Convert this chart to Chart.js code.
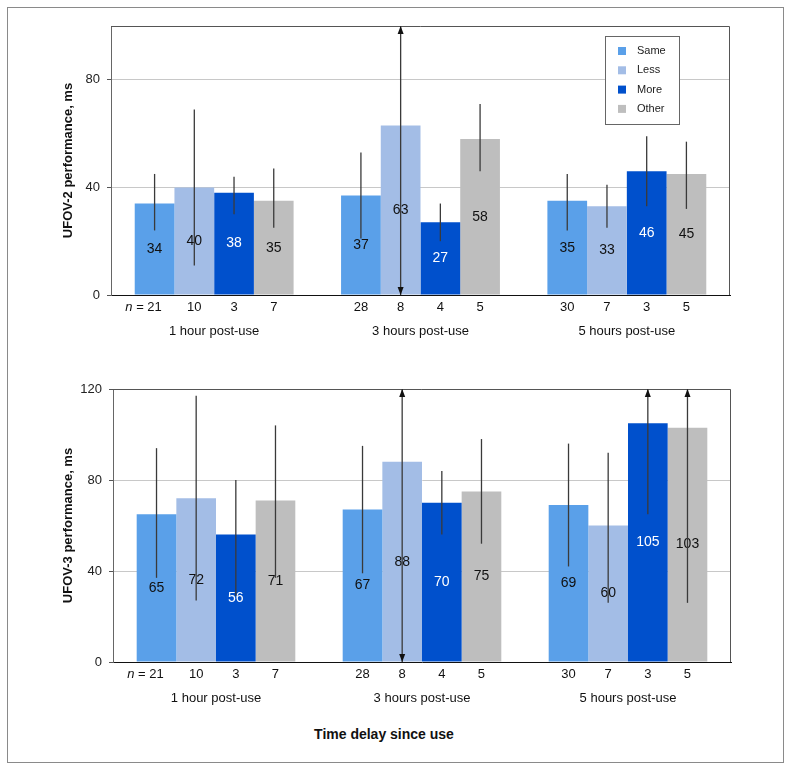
<!DOCTYPE html>
<html>
<head>
<meta charset="utf-8">
<title>UFOV performance by time delay</title>
<script src="https://cdn.jsdelivr.net/npm/chart.js@4.4.1/dist/chart.umd.min.js"></script>
<style>
  html, body { margin: 0; padding: 0; background: #fff; }
  #frame {
    position: absolute; left: 7px; top: 7px; width: 777px; height: 756px;
    border: 1px solid #8a8a8a; box-sizing: border-box;
  }
  .wrap { position: absolute; left: 0; width: 791px; }
  #topWrap { top: 0; height: 345px; }
  #bottomWrap { top: 345px; height: 370px; }
  #xTitle {
    position: absolute; top: 726px; left: 0; width: 768px; text-align: center;
    font: bold 14px "Liberation Sans", Arial, sans-serif; color: #111;
  }
</style>
</head>
<body>
<div id="frame"></div>
<div class="wrap" id="topWrap"><canvas id="ufov2Chart"></canvas></div>
<div class="wrap" id="bottomWrap"><canvas id="ufov3Chart"></canvas></div>
<div id="xTitle">Time delay since use</div>

<script>
// ---- data ----
const categories = ["1 hour post-use", "3 hours post-use", "5 hours post-use"];
const seriesNames = ["Same", "Less", "More", "Other"];

// group sizes (same for both panels)
const nSame = [21, 28, 30];
const nLess = [10, 8, 7];
const nMore = [3, 4, 3];
const nOther = [7, 5, 5];

// UFOV-2 means and error bar ends (ms)
const ufov2Same = [34, 37, 35];
const ufov2Less = [40, 63, 33];
const ufov2More = [38, 27, 46];
const ufov2Other = [35, 58, 45];
const ufov2SameLow = [24, 21, 24];
const ufov2SameHigh = [45, 53, 45];
const ufov2LessLow = [11, -20, 25];
const ufov2LessHigh = [69, 146, 41];
const ufov2MoreLow = [30, 20, 33];
const ufov2MoreHigh = [44, 34, 59];
const ufov2OtherLow = [25, 46, 32];
const ufov2OtherHigh = [47, 71, 57];
const ufov2Ticks = [0, 40, 80];

// UFOV-3 means and error bar ends (ms)
const ufov3Same = [65, 67, 69];
const ufov3Less = [72, 88, 60];
const ufov3More = [56, 70, 105];
const ufov3Other = [71, 75, 103];
const ufov3SameLow = [37, 39, 42];
const ufov3SameHigh = [94, 95, 96];
const ufov3LessLow = [27, -30, 26];
const ufov3LessHigh = [117, 200, 92];
const ufov3MoreLow = [29, 56, 65];
const ufov3MoreHigh = [80, 84, 150];
const ufov3OtherLow = [37, 52, 26];
const ufov3OtherHigh = [104, 98, 180];
const ufov3Ticks = [0, 40, 80, 120];

const barColors = ["#5aa0e9", "#a3bde6", "#0050cc", "#bebebe"];
const labelColors = ["#111", "#111", "#fff", "#111"];
const FONT = '"Liberation Sans", Arial, sans-serif';

Chart.defaults.font.family = FONT;
Chart.defaults.color = "#111";

// value labels, error bars (with arrows when off scale) and n = labels
const barExtras = {
  id: "barExtras",
  afterDatasetsDraw(chart) {
    const { ctx, chartArea } = chart;
    const yScale = chart.scales.y;
    ctx.save();
    chart.data.datasets.forEach((ds, di) => {
      const meta = chart.getDatasetMeta(di);
      meta.data.forEach((bar, i) => {
        ctx.font = "14px " + FONT;
        ctx.fillStyle = ds.labelColor;
        ctx.textAlign = "center";
        ctx.textBaseline = "middle";
        ctx.fillText(ds.data[i], bar.x, (bar.y + bar.base) / 2);
      });
    });
    chart.data.datasets.forEach((ds, di) => {
      const meta = chart.getDatasetMeta(di);
      meta.data.forEach((bar, i) => {
        let top = yScale.getPixelForValue(ds.errHigh[i]);
        let bot = yScale.getPixelForValue(ds.errLow[i]);
        const up = top < chartArea.top;
        const down = bot > chartArea.bottom;
        top = Math.max(top, chartArea.top);
        bot = Math.min(bot, chartArea.bottom);
        ctx.strokeStyle = "#3a3a3a";
        ctx.lineWidth = 1.3;
        ctx.beginPath();
        ctx.moveTo(bar.x, top);
        ctx.lineTo(bar.x, bot);
        ctx.stroke();
        ctx.fillStyle = "#111";
        if (up) {
          ctx.beginPath();
          ctx.moveTo(bar.x, top);
          ctx.lineTo(bar.x - 3, top + 8);
          ctx.lineTo(bar.x + 3, top + 8);
          ctx.fill();
        }
        if (down) {
          ctx.beginPath();
          ctx.moveTo(bar.x, bot);
          ctx.lineTo(bar.x - 3, bot - 8);
          ctx.lineTo(bar.x + 3, bot - 8);
          ctx.fill();
        }
      });
    });
    // n labels under each bar
    ctx.font = "13px " + FONT;
    ctx.fillStyle = "#111";
    ctx.textBaseline = "middle";
    chart.data.datasets.forEach((ds, di) => {
      const meta = chart.getDatasetMeta(di);
      meta.data.forEach((bar, i) => {
        const yy = chartArea.bottom + 12;
        const txt = String(ds.n[i]);
        ctx.textAlign = "center";
        ctx.fillText(txt, bar.x, yy);
        if (di === 0 && i === 0) {
          const w = ctx.measureText(txt).width;
          ctx.textAlign = "right";
          ctx.fillText(" = ", bar.x - w / 2, yy);
          const w2 = ctx.measureText(" = ").width;
          ctx.font = "italic 13px " + FONT;
          ctx.fillText("n", bar.x - w / 2 - w2, yy);
          ctx.font = "13px " + FONT;
        }
      });
    });
    ctx.restore();
  },
};

// plot frame (top and right edges)
const plotFrame = {
  id: "plotFrame",
  beforeDatasetsDraw(chart) {
    const { ctx, chartArea: a } = chart;
    ctx.save();
    ctx.strokeStyle = "#555";
    ctx.lineWidth = 1;
    ctx.beginPath();
    ctx.moveTo(a.left, a.top + 0.5);
    ctx.lineTo(a.right - 0.5, a.top + 0.5);
    ctx.lineTo(a.right - 0.5, a.bottom);
    ctx.stroke();
    ctx.restore();
  },
};

// boxed legend inside the plot
const boxLegend = {
  id: "boxLegend",
  afterDraw(chart, args, opts) {
    if (!opts.show) return;
    const { ctx, chartArea: a } = chart;
    const left = a.right - 125, top = a.top + 10;
    ctx.save();
    ctx.fillStyle = "#fff";
    ctx.fillRect(left, top, 74, 88);
    ctx.strokeStyle = "#666";
    ctx.lineWidth = 1;
    ctx.strokeRect(left + 0.5, top + 0.5, 74, 88);
    ctx.font = "11px " + FONT;
    ctx.textAlign = "left";
    ctx.textBaseline = "middle";
    chart.data.datasets.forEach((ds, k) => {
      const cy = top + 15 + k * 19.3;
      ctx.fillStyle = ds.backgroundColor;
      ctx.fillRect(left + 13, cy - 4, 8, 8);
      ctx.fillStyle = "#222";
      ctx.fillText(ds.label, left + 32, cy);
    });
    ctx.restore();
  },
};

function makeDatasets(values, lows, highs) {
  const ns = [nSame, nLess, nMore, nOther];
  return seriesNames.map((name, k) => ({
    label: name,
    data: values[k],
    errLow: lows[k],
    errHigh: highs[k],
    n: ns[k],
    backgroundColor: barColors[k],
    labelColor: labelColors[k],
    borderWidth: 0,
    categoryPercentage: 0.77,
    barPercentage: 1.0,
  }));
}

function makeChart(id, cfg) {
  const ctx = document.getElementById(id).getContext("2d");
  return new Chart(ctx, {
    type: "bar",
    data: {
      labels: categories,
      datasets: makeDatasets(cfg.values, cfg.lows, cfg.highs),
    },
    options: {
      responsive: true,
      maintainAspectRatio: false,
      animation: false,
      layout: { padding: cfg.padding },
      plugins: {
        legend: { display: false },
        tooltip: { enabled: false },
        boxLegend: { show: cfg.legend },
      },
      scales: {
        x: {
          grid: { display: false, drawTicks: false },
          border: { color: "#111", width: 1 },
          ticks: { padding: 29, font: { size: 13 }, color: "#111" },
          afterFit: (s) => { s.height = cfg.xHeight; },
        },
        y: {
          min: 0,
          max: cfg.max,
          afterBuildTicks: (s) => { s.ticks = cfg.ticks.map((v) => ({ value: v })); },
          grid: { color: "#c8c8c8", tickColor: "#555", tickLength: 4 },
          border: { color: "#666", width: 1 },
          ticks: { padding: 7, font: { size: 13 }, color: "#222" },
          title: {
            display: true,
            text: cfg.title,
            font: { size: 13, weight: "bold" },
            color: "#111",
            padding: { top: 4, bottom: 4 },
          },
          afterFit: (s) => { s.width = cfg.yWidth; },
        },
      },
    },
    plugins: [plotFrame, barExtras, boxLegend],
  });
}

makeChart("ufov2Chart", {
  values: [ufov2Same, ufov2Less, ufov2More, ufov2Other],
  lows: [ufov2SameLow, ufov2LessLow, ufov2MoreLow, ufov2OtherLow],
  highs: [ufov2SameHigh, ufov2LessHigh, ufov2MoreHigh, ufov2OtherHigh],
  ticks: ufov2Ticks,
  max: 100,
  title: "UFOV-2 performance, ms",
  legend: true,
  padding: { left: 57, right: 61, top: 26, bottom: 0 },
  yWidth: 54,
  xHeight: 50,
});

makeChart("ufov3Chart", {
  values: [ufov3Same, ufov3Less, ufov3More, ufov3Other],
  lows: [ufov3SameLow, ufov3LessLow, ufov3MoreLow, ufov3OtherLow],
  highs: [ufov3SameHigh, ufov3LessHigh, ufov3MoreHigh, ufov3OtherHigh],
  ticks: ufov3Ticks,
  max: 120,
  title: "UFOV-3 performance, ms",
  legend: false,
  padding: { left: 57, right: 60, top: 44, bottom: 0 },
  yWidth: 56,
  xHeight: 53,
});
</script>
</body>
</html>
